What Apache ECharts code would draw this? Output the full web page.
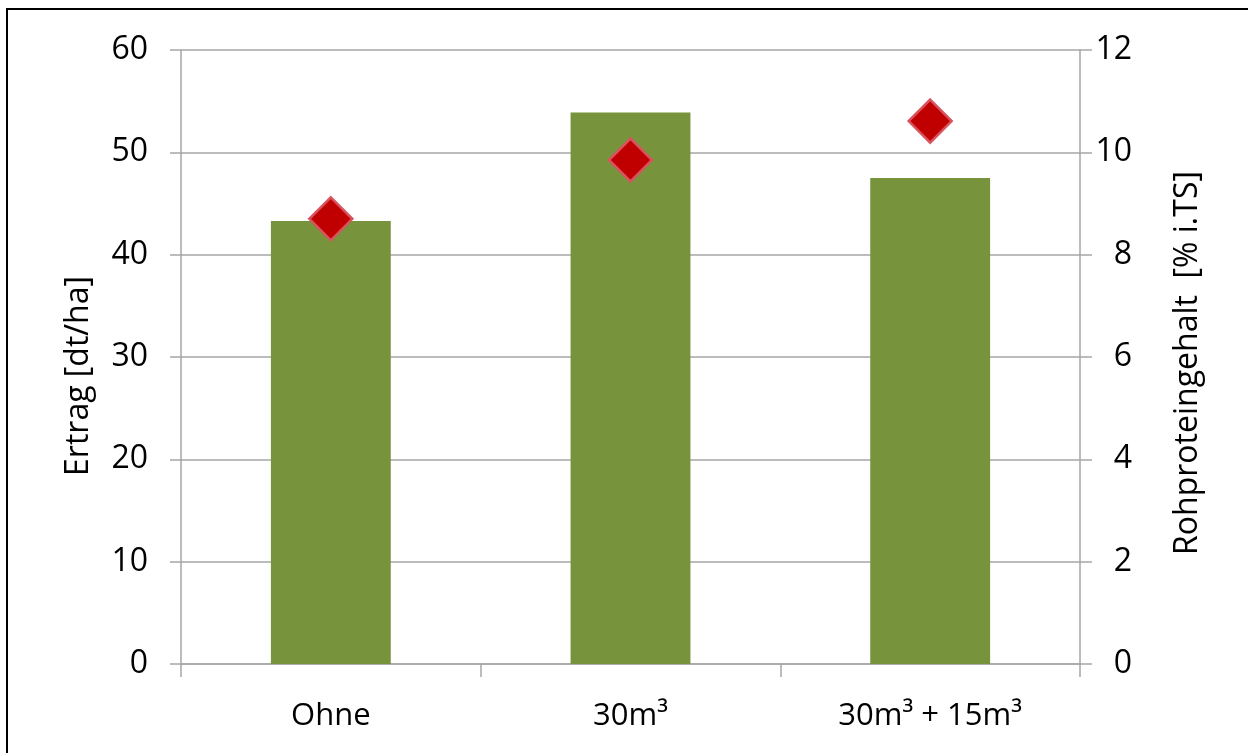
<!DOCTYPE html>
<html>
<head>
<meta charset="utf-8">
<script src="https://cdn.jsdelivr.net/npm/echarts@6/dist/echarts.min.js"></script>
<style>
html,body{margin:0;padding:0;background:#fff;width:1248px;height:753px;overflow:hidden;}
#frame{position:absolute;left:6px;top:8px;width:1400px;height:900px;border:2.5px solid #000;box-sizing:border-box;}
#chart{position:absolute;left:0;top:0;width:1248px;height:753px;}
</style>
</head>
<body>
<div id="frame"></div>
<div id="chart"></div>
<script>
const categories = ['Ohne', '30m³', '30m³ + 15m³'];
const ertrag = [43.3, 53.9, 47.5];
const rohprotein = [8.70, 9.85, 10.61];
const leftTicks = { min: 0, max: 60, interval: 10 };
const rightTicks = { min: 0, max: 12, interval: 2 };
const leftName = 'Ertrag [dt/ha]';
const rightName = 'Rohproteingehalt  [% i.TS]';

const font = '"Open Sans", "DejaVu Sans", sans-serif';
const chart = echarts.init(document.getElementById('chart'));
chart.setOption({
  animation: false,
  backgroundColor: 'transparent',
  grid: { left: 181, right: 168, top: 50, bottom: 89, containLabel: false },
  graphic: [
    { type: 'text', x: 79, y: 376, rotation: Math.PI / 2,
      style: { text: leftName, fill: '#000', font: '32px ' + font, align: 'center', verticalAlign: 'middle' } },
    { type: 'text', x: 1188, y: 363, rotation: Math.PI / 2,
      style: { text: rightName, fill: '#000', font: '32px ' + font, align: 'center', verticalAlign: 'middle' } }
  ],
  xAxis: {
    type: 'category',
    data: categories,
    axisLine: { lineStyle: { color: '#a6a6a6', width: 1.5 } },
    axisTick: { show: true, length: 13, lineStyle: { color: '#a6a6a6', width: 1.5 } },
    axisLabel: { color: '#000', fontSize: 31, fontFamily: font, margin: 37 }
  },
  yAxis: [
    {
      type: 'value', min: leftTicks.min, max: leftTicks.max, interval: leftTicks.interval,
      axisLine: { show: true, lineStyle: { color: '#a6a6a6', width: 1.5 } },
      axisTick: { show: true, length: 11, lineStyle: { color: '#a6a6a6', width: 1.5 } },
      splitLine: { show: true, lineStyle: { color: '#a6a6a6', width: 1.5 } },
      axisLabel: { color: '#000', fontSize: 32, fontFamily: font, margin: 33 }
    },
    {
      type: 'value', min: rightTicks.min, max: rightTicks.max, interval: rightTicks.interval,
      position: 'right',
      axisLine: { show: true, lineStyle: { color: '#a6a6a6', width: 1.5 } },
      axisTick: { show: true, length: 12, lineStyle: { color: '#a6a6a6', width: 1.5 } },
      splitLine: { show: false },
      axisLabel: { color: '#000', fontSize: 32, fontFamily: font, margin: 52, align: 'right' }
    }
  ],
  series: [
    {
      type: 'bar', data: ertrag, yAxisIndex: 0, barWidth: '40%',
      itemStyle: { color: '#77933c' }
    },
    {
      type: 'scatter', data: rohprotein, yAxisIndex: 1,
      symbol: 'diamond', symbolSize: [43, 43],
      itemStyle: { color: '#c00000', borderColor: '#d9535f', borderWidth: 2.5, opacity: 1 }
    }
  ]
});
</script>
</body>
</html>
